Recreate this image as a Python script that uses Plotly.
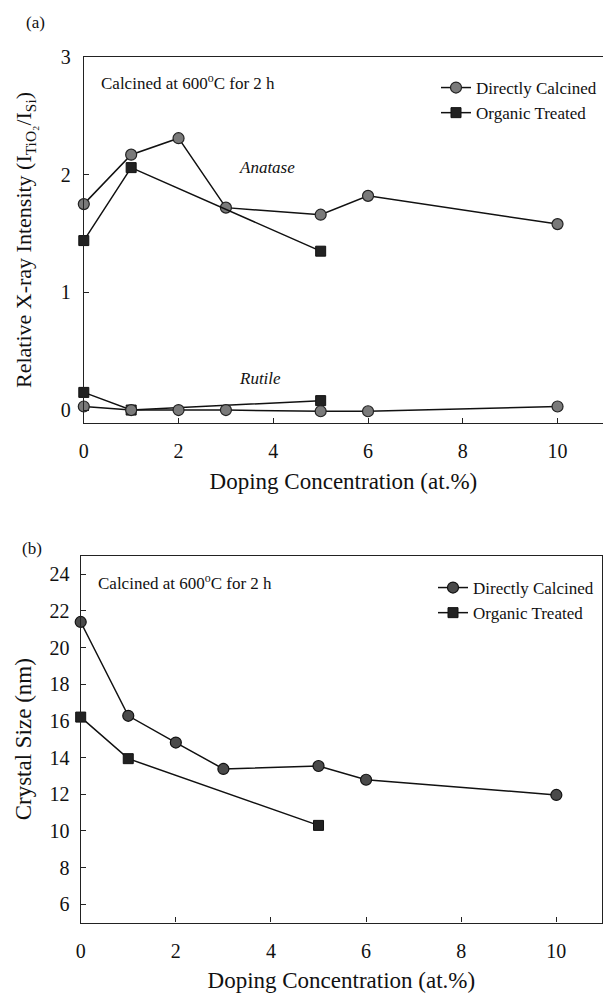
import plotly.graph_objects as go

# ---- data (a) ----
x_dc = [0, 1, 2, 3, 5, 6, 10]
anatase_dc = [1.75, 2.17, 2.31, 1.72, 1.66, 1.82, 1.58]
rutile_dc = [0.03, 0.0, 0.0, 0.0, -0.01, -0.01, 0.03]
x_ot = [0, 1, 5]
anatase_ot = [1.44, 2.06, 1.35]
rutile_ot = [0.15, 0.0, 0.08]

# ---- data (b) ----
size_dc = [21.4, 16.28, 14.82, 13.38, 13.54, 12.79, 11.96]
size_ot = [16.21, 13.94, 10.3]

x_ticks = [0, 2, 4, 6, 8, 10]
y_ticks_a = [0, 1, 2, 3]
y_ticks_b = [6, 8, 10, 12, 14, 16, 18, 20, 22, 24]

FONT = "Liberation Serif, 'Times New Roman', 'DejaVu Serif', serif"
W, H = 603, 994

circ_a = dict(symbol="circle", size=11, color="#7a7a7a", line=dict(color="#222", width=1.2))
circ_b = dict(symbol="circle", size=11, color="#4a4a4a", line=dict(color="#111", width=1.2))
sq = dict(symbol="square", size=10, color="#222", line=dict(color="#111", width=1))
ln = dict(color="#111", width=1.5)

fig = go.Figure()
# panel (a)
fig.add_trace(go.Scatter(x=x_dc, y=anatase_dc, mode="lines+markers", name="Directly Calcined",
                         line=ln, marker=circ_a, xaxis="x", yaxis="y", legend="legend", cliponaxis=False))
fig.add_trace(go.Scatter(x=x_ot, y=anatase_ot, mode="lines+markers", name="Organic Treated",
                         line=ln, marker=sq, xaxis="x", yaxis="y", legend="legend", cliponaxis=False))
fig.add_trace(go.Scatter(x=x_ot, y=rutile_ot, mode="lines+markers", showlegend=False,
                         line=ln, marker=sq, xaxis="x", yaxis="y", cliponaxis=False))
fig.add_trace(go.Scatter(x=x_dc, y=rutile_dc, mode="lines+markers", showlegend=False,
                         line=ln, marker=circ_a, xaxis="x", yaxis="y", cliponaxis=False))
# panel (b)
fig.add_trace(go.Scatter(x=x_dc, y=size_dc, mode="lines+markers", name="Directly Calcined",
                         line=ln, marker=circ_b, xaxis="x2", yaxis="y2", legend="legend2", cliponaxis=False))
fig.add_trace(go.Scatter(x=x_ot, y=size_ot, mode="lines+markers", name="Organic Treated",
                         line=ln, marker=sq, xaxis="x2", yaxis="y2", legend="legend2", cliponaxis=False))

def px_x(p):
    return p / W

def px_y(p):
    return 1 - p / H

axis_common = dict(showline=True, linecolor="#222", linewidth=1.3, mirror=True,
                   ticks="inside", ticklen=5, tickwidth=1, tickcolor="#222",
                   showgrid=False, zeroline=False, automargin=False,
                   tickfont=dict(family=FONT, size=20, color="#111"))

fig.update_layout(
    width=W, height=H,
    margin=dict(l=0, r=0, t=0, b=0),
    paper_bgcolor="white", plot_bgcolor="white",
    font=dict(family=FONT, color="#111"),
    xaxis=dict(domain=[px_x(83.8), 1.0], range=[0, 10.96], tickvals=x_ticks, anchor="y",
               title=dict(text="Doping Concentration (at.%)", font=dict(family=FONT, size=23), standoff=11),
               ticklabelstandoff=10, **axis_common),
    yaxis=dict(domain=[px_y(423), px_y(57)], range=[-0.11, 3.0], tickvals=y_ticks_a, anchor="x",
               title=dict(text="Relative X-ray Intensity (I<sub>TiO₂</sub>/I<sub>Si</sub>)",
                          font=dict(family=FONT, size=22), standoff=22),
               ticklabelstandoff=8, **axis_common),
    xaxis2=dict(domain=[px_x(80.7), px_x(602)], range=[0, 10.96], tickvals=x_ticks, anchor="y2",
                title=dict(text="Doping Concentration (at.%)", font=dict(family=FONT, size=23), standoff=11),
                ticklabelstandoff=10, **axis_common),
    yaxis2=dict(domain=[px_y(922.5), px_y(556)], range=[5, 25], tickvals=y_ticks_b, anchor="x2",
                title=dict(text="Crystal Size (nm)", font=dict(family=FONT, size=23), standoff=11),
                ticklabelstandoff=6, **axis_common),
    legend=dict(x=px_x(436), y=px_y(70), xanchor="left", yanchor="top",
                bgcolor="rgba(0,0,0,0)", font=dict(family=FONT, size=17),
                tracegroupgap=0, itemwidth=30),
    legend2=dict(x=px_x(433), y=px_y(570), xanchor="left", yanchor="top",
                 bgcolor="rgba(0,0,0,0)", font=dict(family=FONT, size=17),
                 tracegroupgap=0, itemwidth=30),
    showlegend=True,
)

ann = [
    dict(text="(a)", x=px_x(24), y=px_y(22), xref="paper", yref="paper", xanchor="left", yanchor="middle",
         showarrow=False, font=dict(family=FONT, size=17)),
    dict(text="(b)", x=px_x(20), y=px_y(548), xref="paper", yref="paper", xanchor="left", yanchor="middle",
         showarrow=False, font=dict(family=FONT, size=17)),
    dict(text="Calcined at 600<sup>o</sup>C for 2 h", x=px_x(99), y=px_y(82), xref="paper", yref="paper",
         xanchor="left", yanchor="middle", showarrow=False, font=dict(family=FONT, size=17)),
    dict(text="Calcined at 600<sup>o</sup>C for 2 h", x=px_x(96), y=px_y(582), xref="paper", yref="paper",
         xanchor="left", yanchor="middle", showarrow=False, font=dict(family=FONT, size=17)),
    dict(text="<i>Anatase</i>", x=3.87, y=2.06, xref="x", yref="y", showarrow=False,
         font=dict(family=FONT, size=17)),
    dict(text="<i>Rutile</i>", x=3.72, y=0.27, xref="x", yref="y", showarrow=False,
         font=dict(family=FONT, size=17)),
]
fig.update_layout(annotations=ann)

fig.write_html("out.html")
